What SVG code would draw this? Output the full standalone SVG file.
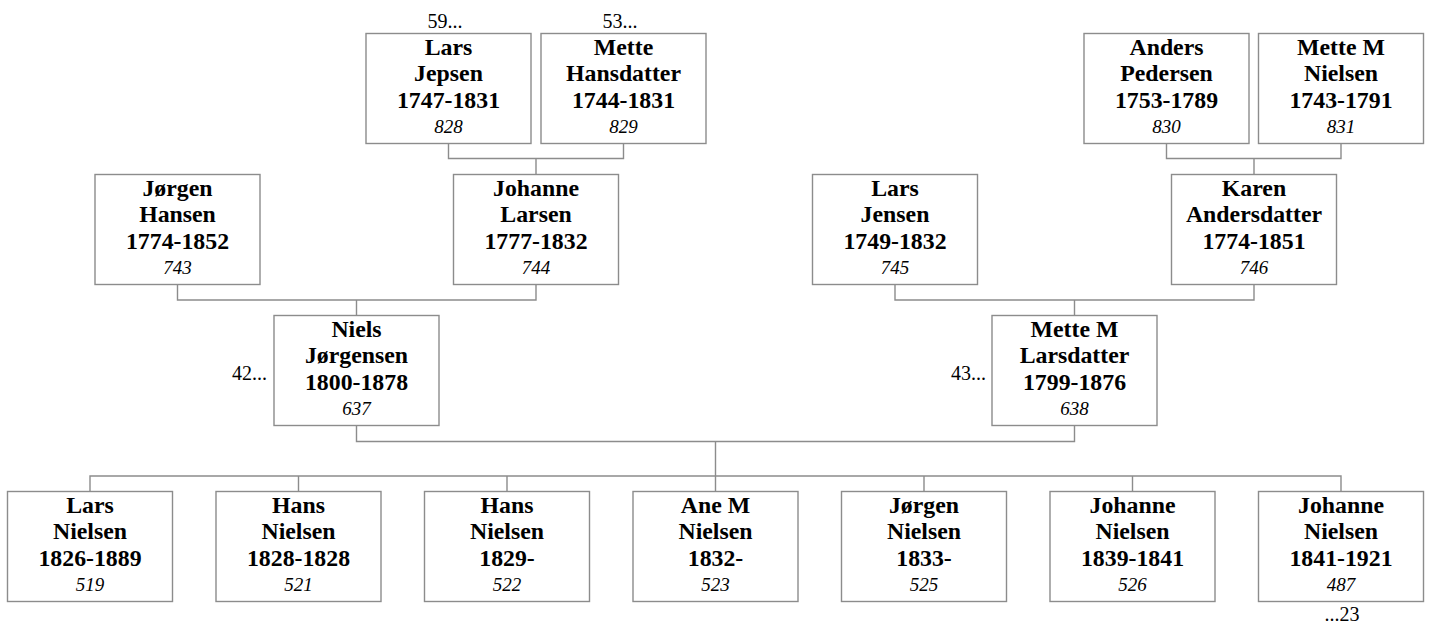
<svg xmlns="http://www.w3.org/2000/svg" width="1430" height="626" viewBox="0 0 1430 626" font-family="'Liberation Serif', 'Times New Roman', Times, 'DejaVu Serif', serif">
<style>
.box{fill:#fff;stroke:#8c8c8c;stroke-width:1.4}
.con{fill:none;stroke:#8c8c8c;stroke-width:1.4}
text{font-family:'Liberation Serif','Times New Roman',Times,'DejaVu Serif',serif}
.n{font-weight:bold;font-size:23.8px;text-anchor:middle;fill:#000}
.id{font-style:italic;font-size:19px;text-anchor:middle;fill:#000}
.m{font-size:20px;fill:#000}
</style>
<g id="connectors">
<path class="con" d="M448.5 143.5V158.5H623.5V143.5M536 158.5V174.5"/>
<path class="con" d="M1166.5 143.5V158.5H1341V143.5M1254 158.5V174.5"/>
<path class="con" d="M177.5 284.5V300H536V284.5M356.5 300V315.5"/>
<path class="con" d="M895 284.5V300H1254V284.5M1074.5 300V315.5"/>
<path class="con" d="M356.5 425.5V441.5H1074.5V425.5M715.5 441.5V476"/>
<path class="con" d="M90 491.5V476H1341V491.5M298.5 476V491.5M507 476V491.5M715.5 476V491.5M924 476V491.5M1132.5 476V491.5"/>
</g>
<g id="p828"><rect class="box" x="366" y="33.5" width="165" height="110"/><text class="n" x="448.5" y="54.5">Lars</text><text class="n" x="448.5" y="81">Jepsen</text><text class="n" x="448.5" y="107.5">1747-1831</text><text class="id" x="448.5" y="132.5">828</text><text class="m" x="445" y="28" text-anchor="middle">59...</text></g>
<g id="p829"><rect class="box" x="541" y="33.5" width="165" height="110"/><text class="n" x="623.5" y="54.5">Mette</text><text class="n" x="623.5" y="81">Hansdatter</text><text class="n" x="623.5" y="107.5">1744-1831</text><text class="id" x="623.5" y="132.5">829</text><text class="m" x="620" y="28" text-anchor="middle">53...</text></g>
<g id="p830"><rect class="box" x="1084" y="33.5" width="165" height="110"/><text class="n" x="1166.5" y="54.5">Anders</text><text class="n" x="1166.5" y="81">Pedersen</text><text class="n" x="1166.5" y="107.5">1753-1789</text><text class="id" x="1166.5" y="132.5">830</text></g>
<g id="p831"><rect class="box" x="1258.5" y="33.5" width="165" height="110"/><text class="n" x="1341" y="54.5">Mette M</text><text class="n" x="1341" y="81">Nielsen</text><text class="n" x="1341" y="107.5">1743-1791</text><text class="id" x="1341" y="132.5">831</text></g>
<g id="p743"><rect class="box" x="95" y="174.5" width="165" height="110"/><text class="n" x="177.5" y="195.5">Jørgen</text><text class="n" x="177.5" y="222">Hansen</text><text class="n" x="177.5" y="248.5">1774-1852</text><text class="id" x="177.5" y="273.5">743</text></g>
<g id="p744"><rect class="box" x="453.5" y="174.5" width="165" height="110"/><text class="n" x="536" y="195.5">Johanne</text><text class="n" x="536" y="222">Larsen</text><text class="n" x="536" y="248.5">1777-1832</text><text class="id" x="536" y="273.5">744</text></g>
<g id="p745"><rect class="box" x="812.5" y="174.5" width="165" height="110"/><text class="n" x="895" y="195.5">Lars</text><text class="n" x="895" y="222">Jensen</text><text class="n" x="895" y="248.5">1749-1832</text><text class="id" x="895" y="273.5">745</text></g>
<g id="p746"><rect class="box" x="1171.5" y="174.5" width="165" height="110"/><text class="n" x="1254" y="195.5">Karen</text><text class="n" x="1254" y="222">Andersdatter</text><text class="n" x="1254" y="248.5">1774-1851</text><text class="id" x="1254" y="273.5">746</text></g>
<g id="p637"><rect class="box" x="274" y="315.5" width="165" height="110"/><text class="n" x="356.5" y="336.5">Niels</text><text class="n" x="356.5" y="363">Jørgensen</text><text class="n" x="356.5" y="389.5">1800-1878</text><text class="id" x="356.5" y="414.5">637</text><text class="m" x="267" y="379.5" text-anchor="end">42...</text></g>
<g id="p638"><rect class="box" x="992" y="315.5" width="165" height="110"/><text class="n" x="1074.5" y="336.5">Mette M</text><text class="n" x="1074.5" y="363">Larsdatter</text><text class="n" x="1074.5" y="389.5">1799-1876</text><text class="id" x="1074.5" y="414.5">638</text><text class="m" x="986" y="379.5" text-anchor="end">43...</text></g>
<g id="p519"><rect class="box" x="7.5" y="491.5" width="165" height="110"/><text class="n" x="90" y="512.5">Lars</text><text class="n" x="90" y="539">Nielsen</text><text class="n" x="90" y="565.5">1826-1889</text><text class="id" x="90" y="590.5">519</text></g>
<g id="p521"><rect class="box" x="216" y="491.5" width="165" height="110"/><text class="n" x="298.5" y="512.5">Hans</text><text class="n" x="298.5" y="539">Nielsen</text><text class="n" x="298.5" y="565.5">1828-1828</text><text class="id" x="298.5" y="590.5">521</text></g>
<g id="p522"><rect class="box" x="424.5" y="491.5" width="165" height="110"/><text class="n" x="507" y="512.5">Hans</text><text class="n" x="507" y="539">Nielsen</text><text class="n" x="507" y="565.5">1829-</text><text class="id" x="507" y="590.5">522</text></g>
<g id="p523"><rect class="box" x="633" y="491.5" width="165" height="110"/><text class="n" x="715.5" y="512.5">Ane M</text><text class="n" x="715.5" y="539">Nielsen</text><text class="n" x="715.5" y="565.5">1832-</text><text class="id" x="715.5" y="590.5">523</text></g>
<g id="p525"><rect class="box" x="841.5" y="491.5" width="165" height="110"/><text class="n" x="924" y="512.5">Jørgen</text><text class="n" x="924" y="539">Nielsen</text><text class="n" x="924" y="565.5">1833-</text><text class="id" x="924" y="590.5">525</text></g>
<g id="p526"><rect class="box" x="1050" y="491.5" width="165" height="110"/><text class="n" x="1132.5" y="512.5">Johanne</text><text class="n" x="1132.5" y="539">Nielsen</text><text class="n" x="1132.5" y="565.5">1839-1841</text><text class="id" x="1132.5" y="590.5">526</text></g>
<g id="p487"><rect class="box" x="1258.5" y="491.5" width="165" height="110"/><text class="n" x="1341" y="512.5">Johanne</text><text class="n" x="1341" y="539">Nielsen</text><text class="n" x="1341" y="565.5">1841-1921</text><text class="id" x="1341" y="590.5">487</text><text class="m" x="1342" y="621" text-anchor="middle">...23</text></g>
</svg>
